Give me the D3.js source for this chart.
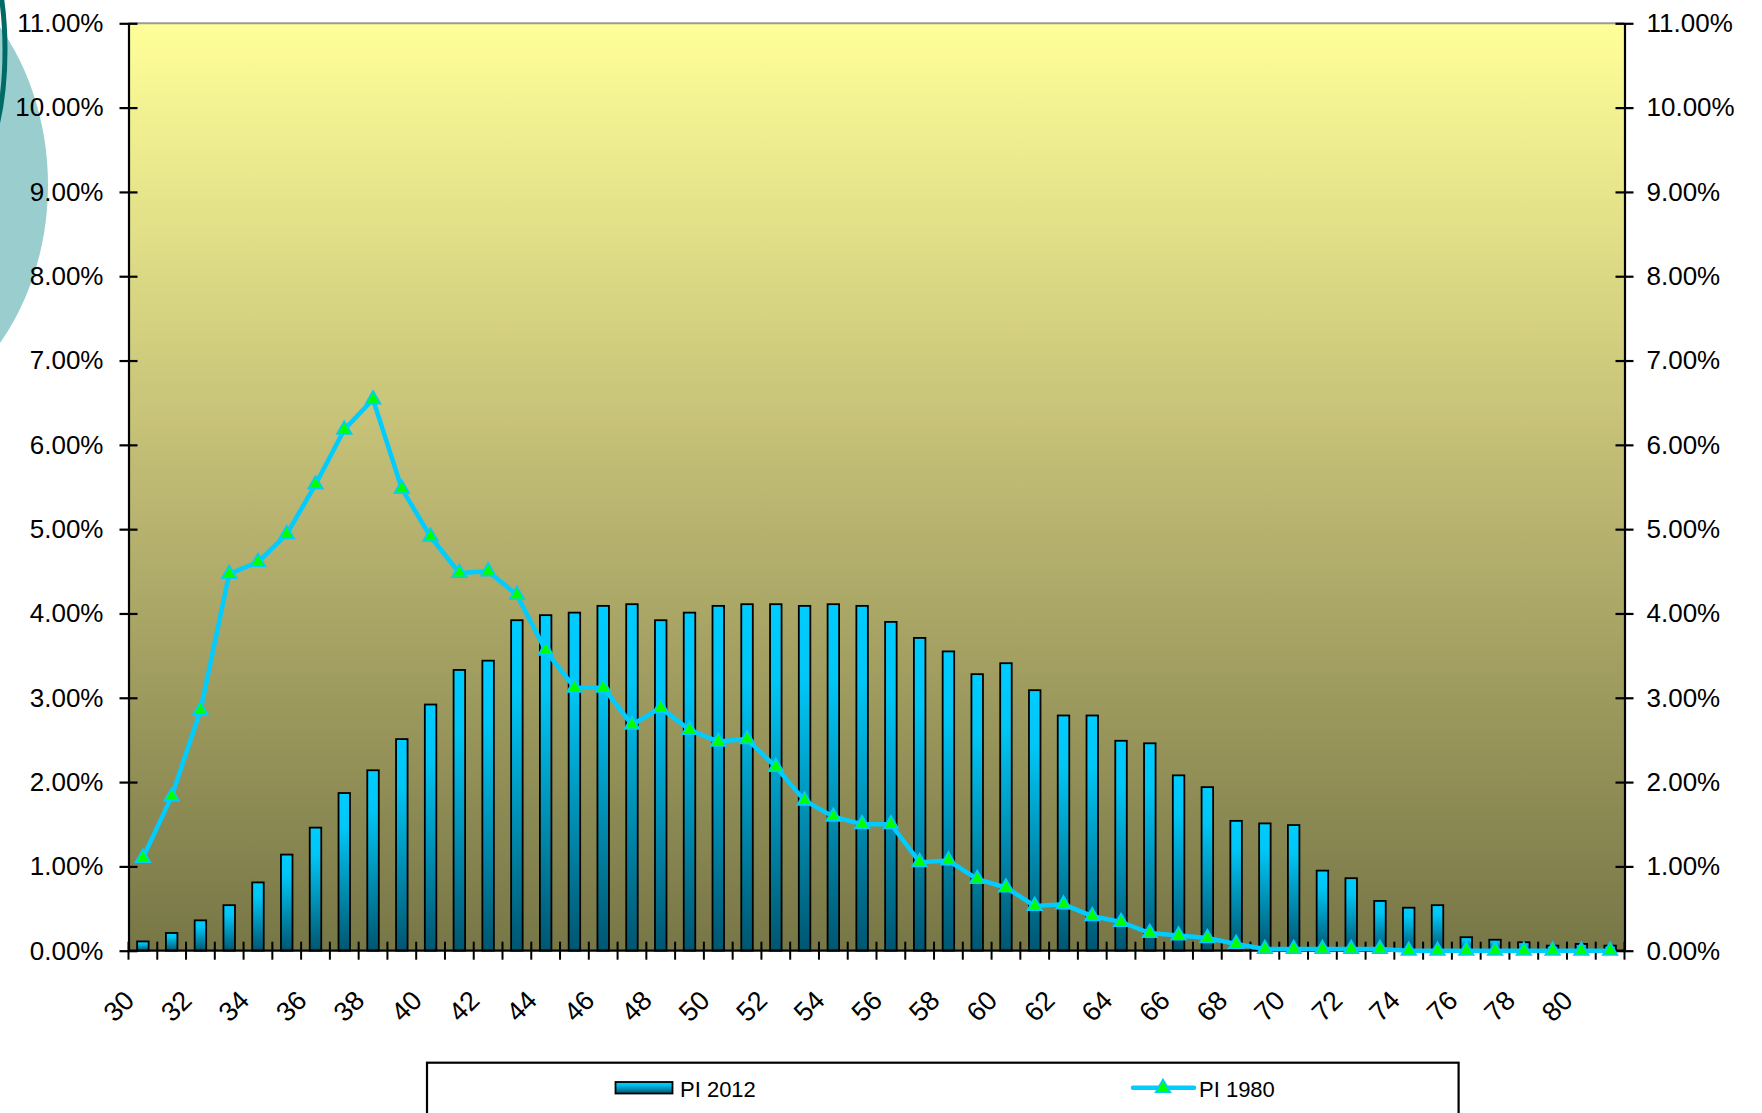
<!DOCTYPE html>
<html>
<head>
<meta charset="utf-8">
<script src="https://cdn.jsdelivr.net/npm/d3@7/dist/d3.min.js"></script>
<style>
  html, body { margin: 0; padding: 0; background: #ffffff; }
  svg { display: block; font-family: "Liberation Sans", Arial, sans-serif; }
</style>
</head>
<body>
<svg id="chart" width="1762" height="1113"></svg>
<script>
const categories = [30,31,32,33,34,35,36,37,38,39,40,41,42,43,44,45,46,47,48,49,50,51,52,53,54,55,56,57,58,59,60,61,62,63,64,65,66,67,68,69,70,71,72,73,74,75,76,77,78,79,80,81];
const xTickLabels = [30,32,34,36,38,40,42,44,46,48,50,52,54,56,58,60,62,64,66,68,70,72,74,76,78,80];
const pi2012 = [0.11,0.21,0.36,0.54,0.81,1.14,1.46,1.87,2.14,2.51,2.92,3.33,3.44,3.92,3.98,4.01,4.09,4.11,3.92,4.01,4.09,4.11,4.11,4.09,4.11,4.09,3.90,3.71,3.55,3.28,3.41,3.09,2.79,2.79,2.49,2.46,2.08,1.94,1.54,1.51,1.49,0.95,0.86,0.59,0.51,0.54,0.16,0.13,0.10,0.06,0.08,0.06];
const pi1980 = [1.10,1.83,2.85,4.47,4.61,4.94,5.53,6.18,6.54,5.48,4.91,4.48,4.50,4.22,3.56,3.12,3.12,2.68,2.88,2.62,2.48,2.51,2.18,1.78,1.59,1.50,1.50,1.05,1.07,0.85,0.75,0.53,0.55,0.41,0.34,0.21,0.18,0.15,0.08,0.02,0.02,0.02,0.02,0.02,0.00,0.00,0.00,0.00,0.00,0.00,0.00,0.00];
const yTicks = [0,1,2,3,4,5,6,7,8,9,10,11];
const seriesNames = ["PI 2012", "PI 1980"];

const svg = d3.select("#chart");
const L = 128.5, R = 1624.5, T = 23.3, B = 950.7;

const defs = svg.append("defs");
const bg = defs.append("linearGradient").attr("id","bgGrad").attr("x1",0).attr("y1",0).attr("x2",0).attr("y2",1);
bg.append("stop").attr("offset","0").attr("stop-color","#FFFF99");
bg.append("stop").attr("offset","0.5").attr("stop-color","#BDB872");
bg.append("stop").attr("offset","1").attr("stop-color","#777646");
const bgr = defs.append("linearGradient").attr("id","barGrad").attr("x1",0).attr("y1",0).attr("x2",0).attr("y2",1);
bgr.append("stop").attr("offset","0").attr("stop-color","#00CCFF");
bgr.append("stop").attr("offset","0.22").attr("stop-color","#00C6F5");
bgr.append("stop").attr("offset","1").attr("stop-color","#005670");

// decorative teal shapes at top-left
svg.append("ellipse").attr("cx",-150).attr("cy",185).attr("rx",198).attr("ry",242).attr("fill","#9ACECE");
svg.append("ellipse").attr("cx",-55).attr("cy",50).attr("rx",60).attr("ry",150)
  .attr("fill","none").attr("stroke","#006B66").attr("stroke-width",5);

const x = d3.scaleBand().domain(categories).range([L, R]).paddingInner(0).paddingOuter(0);
const y = d3.scaleLinear().domain([0, 11]).range([B, T]);
const bw = x.bandwidth();

// plot background
svg.append("rect").attr("x",L).attr("y",T).attr("width",R-L).attr("height",B-T).attr("fill","url(#bgGrad)");
svg.append("line").attr("x1",L).attr("x2",R).attr("y1",T).attr("y2",T).attr("stroke","#9a9a9a").attr("stroke-width",2);

// bars
const barW = bw * 0.4;
svg.append("g").selectAll("rect").data(categories).join("rect")
  .attr("x", (c) => x(c) + (bw - barW)/2)
  .attr("y", (c, i) => y(pi2012[i]))
  .attr("width", barW)
  .attr("height", (c, i) => B - y(pi2012[i]))
  .attr("fill","url(#barGrad)")
  .attr("stroke","#000").attr("stroke-width",1.8);

// y axes
const fmt = d => d.toFixed(2) + "%";
const yl = svg.append("g").attr("transform",`translate(${L},0)`)
  .call(d3.axisLeft(y).tickValues(yTicks).tickFormat(fmt).tickSizeInner(9).tickSizeOuter(0).tickPadding(16));
const yr = svg.append("g").attr("transform",`translate(${R},0)`)
  .call(d3.axisRight(y).tickValues(yTicks).tickFormat(fmt).tickSizeInner(9).tickSizeOuter(0).tickPadding(14));
[yl, yr].forEach(g => {
  g.select(".domain").attr("stroke","#000").attr("stroke-width",2.2);
  g.selectAll(".tick line").attr("x1",-9).attr("x2",9).attr("stroke","#000").attr("stroke-width",2.2);
  g.selectAll(".tick text").attr("font-size",26).attr("fill","#000").attr("font-family","Liberation Sans, Arial, sans-serif");
});
yl.selectAll(".tick text").attr("x",-25);
yr.selectAll(".tick text").attr("x",22);

// x axis
const xa = svg.append("g");
xa.append("line").attr("x1",L).attr("x2",R).attr("y1",B).attr("y2",B).attr("stroke","#000").attr("stroke-width",2.2);
const bounds = categories.map(c => x(c)).concat([x(categories[categories.length-1]) + bw]);
xa.selectAll("line.tk").data(bounds).join("line").attr("class","tk")
  .attr("x1",d=>d).attr("x2",d=>d).attr("y1",B-9).attr("y2",B+9).attr("stroke","#000").attr("stroke-width",2);
xa.selectAll("text").data(xTickLabels).join("text")
  .attr("transform", d => `translate(${x(d) + bw/2 - 7},${1002}) rotate(-45)`)
  .attr("text-anchor","end").attr("font-size",27).attr("fill","#000")
  .text(d => d);

// line series
const line = d3.line().x((c) => x(c) + bw/2).y((c, i) => y(pi1980[i]));
svg.append("path").datum(categories).attr("d", line)
  .attr("fill","none").attr("stroke","#00CCFF").attr("stroke-width",4.5).attr("stroke-linejoin","round");
const tri = d3.symbol().type(d3.symbolTriangle).size(95);
svg.append("g").selectAll("path").data(categories).join("path")
  .attr("d", tri)
  .attr("transform", (c, i) => `translate(${x(c) + bw/2},${y(pi1980[i])})`)
  .attr("fill","#00FF00").attr("stroke","#00CCFF").attr("stroke-width",1.6);

// legend
const lg = svg.append("g");
lg.append("rect").attr("x",427).attr("y",1062.7).attr("width",1031.6).attr("height",80)
  .attr("fill","#fff").attr("stroke","#000").attr("stroke-width",2.2);
lg.append("rect").attr("x",615.5).attr("y",1082).attr("width",57).attr("height",11.5)
  .attr("fill","url(#barGrad)").attr("stroke","#000").attr("stroke-width",1.8);
lg.append("text").attr("x",680).attr("y",1097.3).attr("font-size",22).attr("fill","#000").text(seriesNames[0]);
lg.append("line").attr("x1",1133).attr("x2",1194).attr("y1",1087.7).attr("y2",1087.7)
  .attr("stroke","#00CCFF").attr("stroke-width",4.5).attr("stroke-linecap","round");
lg.append("path").attr("d",tri).attr("transform","translate(1163,1088)")
  .attr("fill","#00FF00").attr("stroke","#00CCFF").attr("stroke-width",1.6);
lg.append("text").attr("x",1199).attr("y",1097.3).attr("font-size",22).attr("fill","#000").text(seriesNames[1]);
</script>
</body>
</html>
